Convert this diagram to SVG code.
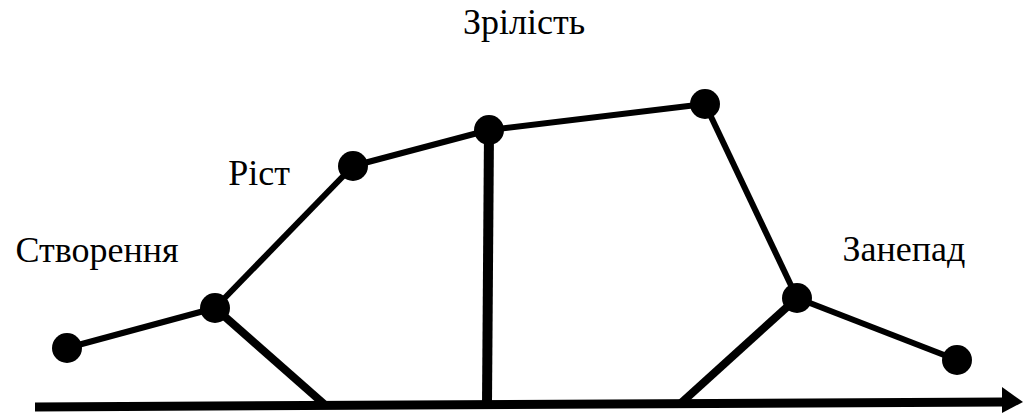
<svg xmlns="http://www.w3.org/2000/svg" width="1024" height="414" viewBox="0 0 1024 414">
<style>
.lbl{font-family:"Liberation Serif","Times New Roman",serif;font-size:36px;fill:#000}
.ln{stroke:#000;stroke-width:6;fill:none}
.th{stroke:#000;stroke-width:8;fill:none}
.nd{fill:#000}
</style>
<rect width="1024" height="414" fill="#fff"/>
<g id="connectors">
<line class="ln" x1="67" y1="348" x2="215" y2="308"/>
<line class="ln" x1="215" y1="308" x2="353" y2="166"/>
<line class="ln" x1="353" y1="166" x2="489" y2="130"/>
<line class="ln" x1="489" y1="130" x2="705" y2="104"/>
<line class="ln" x1="705" y1="104" x2="797" y2="298"/>
<line class="ln" x1="797" y1="298" x2="957" y2="360"/>
<line class="th" x1="215" y1="308" x2="324" y2="404"/>
<line class="th" x1="489" y1="130" x2="487" y2="404" style="stroke-width:10"/>
<line class="th" x1="797" y1="298" x2="680" y2="404"/>
<line x1="35" y1="407" x2="1004" y2="402" stroke="#000" stroke-width="9"/>
<polygon points="1002,387 1023,402 1002,413" fill="#000"/>
</g>
<g id="n1"><circle class="nd" cx="67" cy="348" r="15"/></g>
<g id="n2"><circle class="nd" cx="215" cy="308" r="15"/></g>
<g id="n3"><circle class="nd" cx="353" cy="166" r="15"/></g>
<g id="n4"><circle class="nd" cx="489" cy="130" r="15"/></g>
<g id="n5"><circle class="nd" cx="705" cy="104" r="15"/></g>
<g id="n6"><circle class="nd" cx="797" cy="298" r="15"/></g>
<g id="n7"><circle class="nd" cx="957" cy="360" r="15"/></g>
<g id="labels">
<text class="lbl" x="524" y="34" text-anchor="middle">Зрілість</text>
<text class="lbl" x="259" y="185" text-anchor="middle">Ріст</text>
<text class="lbl" x="97" y="262" text-anchor="middle">Створення</text>
<text class="lbl" x="904" y="261" text-anchor="middle">Занепад</text>
</g>
</svg>
